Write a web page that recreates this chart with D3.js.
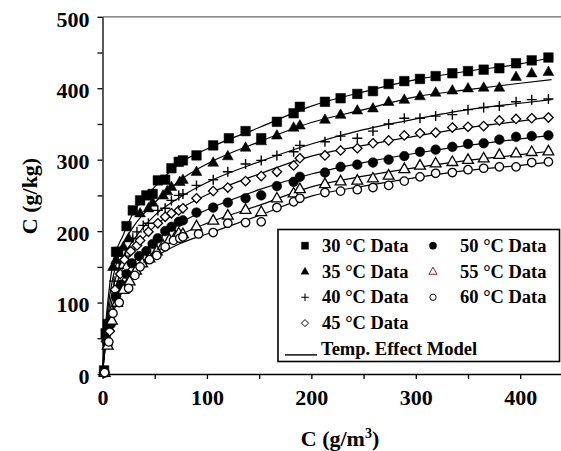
<!DOCTYPE html>
<html>
<head>
<meta charset="utf-8">
<script src="https://cdn.jsdelivr.net/npm/d3@7"></script>
<style>
    body { margin: 0; background: #ffffff; }
</style>
</head>
<body>
<div id="isotherm"></div>
<script>
// Temperatures (legend order) and the marker used for each one
var temps = ["30", "35", "40", "45", "50", "55", "60"];
var markerTypes = ["square", "triangle", "cross", "diamond", "dot", "opentriangle", "opencircle"];

// Measured points below ~170 g/m3, [C (g/m3), C (g/kg)]
var low30 = [[1.5,5],[3,57],[5,70],[13,171],[15,171],[23,207],[29,229],[36,243],[42,250],[48,252],[53,271],[60,272],[66,288],[73,297],[77,299],[90,306],[106,320],[121,330],[137,340],[152,330],[167,353]];
var low35 = [[1.5,3],[3.5,50],[6,65],[10,150],[13,160],[20,178],[25,190],[36,225],[44,232],[48,240],[58,250],[62,256],[66,262],[74,269],[77,272],[90,283],[106,296],[120,305],[137,317],[152,326],[167,334]];
var low40 = [[1.5,2],[4,48],[6,62],[11,130],[16,148],[22,165],[29,190],[33,199],[39,208],[44,211],[53,229],[60,232],[66,243],[73,250],[77,252],[90,264],[106,272],[120,283],[137,294],[152,299],[167,306]];
var low45 = [[1.5,2],[4,45],[7,60],[12,118],[17,140],[21,160],[27,172],[33,180],[36,187],[44,199],[53,211],[60,220],[66,225],[73,229],[77,232],[90,246],[106,256],[120,261],[137,270],[152,277],[167,283]];
var low50 = [[2,2],[5,42],[8,70],[13,108],[18,125],[23,140],[28,155],[35,165],[42,172],[48,182],[53,190],[60,200],[66,206],[73,213],[77,215],[90,226],[106,233],[120,240],[137,246],[152,250],[167,263]];
var low55 = [[2,2],[5,40],[9,75],[14,100],[20,118],[26,130],[32,145],[38,155],[45,162],[52,172],[58,180],[64,188],[70,193],[73,197],[77,196],[90,207],[106,215],[120,222],[137,230],[152,227],[167,246]];
var low60 = [[2,2],[6,45],[10,85],[16,100],[25,120],[31,138],[36,150],[45,160],[52,166],[60,178],[68,187],[74,190],[77,192],[92,196],[106,198],[120,211],[137,212],[152,213],[167,233]];

// Upper range: all temperatures share these concentrations (g/m3)
var highX = [183, 189, 213, 228, 244, 259, 274, 289, 304, 319, 335, 350, 365, 380, 396, 411, 427];
var high30 = [365, 374, 381, 386, 392, 396, 406, 410, 413, 417, 421, 424, 426, 428, 435, 439, 443];
var high35 = [345, 348, 356, 363, 369, 372, 381, 384, 389, 394, 397, 400, 401, 401, 416, 421, 423];
var high40 = [311, 320, 325, 333, 330, 340, 350, 358, 358, 361, 363, 370, 373, 375, 381, 384, 385];
var high45 = [292, 302, 306, 313, 316, 323, 327, 334, 337, 338, 345, 346, 347, 355, 357, 358, 359];
var high50 = [269, 276, 282, 290, 293, 296, 300, 305, 311, 314, 318, 322, 323, 328, 332, 333, 334];
var high55 = [253, 259, 266, 270, 271, 274, 278, 287, 292, 295, 297, 300, 302, 307, 309, 311, 312];
var high60 = [241, 246, 254, 256, 258, 261, 264, 270, 276, 281, 282, 286, 288, 290, 290, 296, 297];

// Temp. Effect Model curves
var modelX = [0, 2, 5, 10, 20, 30, 50, 75, 100, 150, 200, 250, 300, 350, 400, 430];
var model30 = [0, 50, 100, 155, 195, 227, 262, 296, 315, 345, 375, 395, 412, 424, 434, 443];
var model35 = [0, 45, 90, 135, 182, 207, 240, 272, 294, 325, 352, 370, 388, 398, 407, 412];
var model40 = [0, 40, 80, 120, 165, 188, 222, 248, 268, 297, 322, 342, 357, 370, 379, 384];
var model45 = [0, 36, 72, 108, 150, 173, 207, 232, 251, 280, 305, 320, 333, 345, 354, 360];
var model50 = [0, 32, 65, 97, 135, 157, 185, 212, 230, 258, 280, 296, 309, 320, 329, 334];
var model55 = [0, 30, 60, 90, 125, 145, 172, 195, 211, 236, 262, 277, 289, 299, 307, 312];
var model60 = [0, 28, 56, 85, 118, 137, 163, 183, 196, 222, 249, 263, 275, 285, 292, 297];

// Axis ticks
var xTicks = [0, 50, 100, 150, 200, 250, 300, 350, 400];
var yTicks = [0, 50, 100, 150, 200, 250, 300, 350, 400, 450, 500];

/**
 * Isotherm chart module
 */
var isotherm = function () {

    var exports = {},
        svg = null,
        width = 561,
        height = 451,
        // plot area in pixels
        plot = { left: 102.5, right: 562, top: 16.8, bottom: 374 },
        lows = [low30, low35, low40, low45, low50, low55, low60],
        highs = [high30, high35, high40, high45, high50, high55, high60],
        models = [model30, model35, model40, model45, model50, model55, model60],
        series = [];

    /** private **/

    // joins the low and high range points of every temperature
    var makeSeries = function () {
        for (var i = 0; i < temps.length; i++) {
            var pts = lows[i].map(function (p) { return { x: p[0], y: p[1] }; });
            for (var j = 0; j < highX.length; j++) {
                pts.push({ x: highX[j], y: highs[i][j] });
            }
            series.push({
                name: temps[i] + " \u00B0C Data",
                type: markerTypes[i],
                points: pts,
                model: modelX.map(function (x, k) { return { x: x, y: models[i][k] }; })
            });
        }
    };

    // bold Times-like text
    var serif = function (sel, size) {
        sel.style("font-family", "'Liberation Serif'")
            .style("font-weight", "bold")
            .style("font-size", size + "px")
            .style("fill", "#000");
    };

    var markerPath = function (type) {
        switch (type) {
            case "square": return "M-4.8,-4.8H4.8V4.8H-4.8Z";
            case "triangle":
            case "opentriangle": return "M0,-5.8L5.4,3.7H-5.4Z";
            case "cross": return "M-5,0H5M0,-5V5";
            case "diamond": return "M0,-4.7L4.7,0L0,4.7L-4.7,0Z";
            default: return d3.symbol(d3.symbolCircle, type === "dot" ? 74 : 56)();
        }
    };

    var styleMarker = function (sel, colour) {
        sel.attr("d", function (d) { return markerPath(d.type); })
            .style("fill", function (d) {
                if (d.type === "cross") return "none";
                return (d.type.indexOf("open") === 0 || d.type === "diamond") ? "#ffffff" : "#000000";
            })
            .style("stroke", colour || "#000000")
            .style("stroke-width", function (d) {
                if (d.type === "cross") return 1.4;
                return (d.type.indexOf("open") === 0 || d.type === "diamond") ? 1.3 : 0.5;
            });
    };

    /** public **/

    exports.draw = function () {
        makeSeries();

        var x = d3.scaleLinear().domain([0, 440]).range([plot.left, plot.right]),
            y = d3.scaleLinear().domain([0, 500]).range([plot.bottom, plot.top]);

        svg = d3.select("#isotherm").append("svg")
            .attr("width", width)
            .attr("height", height);

        // grey top edge of the plot area
        svg.append("line")
            .attr("x1", plot.left).attr("x2", plot.right)
            .attr("y1", plot.top).attr("y2", plot.top)
            .style("stroke", "#666666")
            .style("stroke-width", 1.2);

        // axes
        var yAxis = d3.axisLeft(y)
            .tickValues(yTicks)
            .tickSize(5)
            .tickSizeOuter(0)
            .tickPadding(8)
            .tickFormat(function (d) { return d % 100 === 0 ? d : ""; });

        var xAxis = d3.axisBottom(x)
            .tickValues(xTicks)
            .tickSize(5)
            .tickSizeOuter(0)
            .tickPadding(10)
            .tickFormat(function (d) { return d % 100 === 0 ? d : ""; });

        var gy = svg.append("g")
            .attr("transform", "translate(" + plot.left + ",0)")
            .call(yAxis);
        gy.selectAll("text").attr("dy", "0.42em");

        var gx = svg.append("g")
            .attr("transform", "translate(0," + plot.bottom + ")")
            .call(xAxis);

        [gx, gy].forEach(function (g) {
            g.attr("font-family", null).attr("font-size", null);
            g.selectAll("text").call(serif, 22);
            g.selectAll("line, path").style("stroke", "#000").style("stroke-width", 1.3);
        });

        // axis titles
        svg.append("text")
            .attr("transform", "translate(37,196) rotate(-90)")
            .attr("text-anchor", "middle")
            .call(serif, 22)
            .text("C (g/kg)");

        var xt = svg.append("text")
            .attr("x", 340)
            .attr("y", 446)
            .attr("text-anchor", "middle")
            .call(serif, 22);
        xt.append("tspan").text("C (g/m");
        xt.append("tspan").attr("dy", "-8").style("font-size", "14px").text("3");
        xt.append("tspan").attr("dy", "8").text(")");

        // model curves
        var line = d3.line()
            .x(function (d) { return x(d.x); })
            .y(function (d) { return y(d.y); })
            .curve(d3.curveMonotoneX);

        svg.append("g").selectAll("path")
            .data(series)
            .enter().append("path")
            .attr("d", function (d) { return line(d.model); })
            .style("fill", "none")
            .style("stroke", "#000")
            .style("stroke-width", 1.2);

        // data markers
        series.forEach(function (s) {
            svg.append("g").selectAll("path")
                .data(s.points.map(function (p) { return { x: p.x, y: p.y, type: s.type }; }))
                .enter().append("path")
                .attr("transform", function (d) { return "translate(" + x(d.x) + "," + y(d.y) + ")"; })
                .call(styleMarker);
        });

        // legend
        var legend = svg.append("g");
        legend.append("rect")
            .attr("x", 278).attr("y", 229.5)
            .attr("width", 281.5).attr("height", 132)
            .style("fill", "#fff")
            .style("stroke", "#000")
            .style("stroke-width", 1.6);

        var rowBase = 251.7, rowStep = 25.8;
        series.forEach(function (s, i) {
            var col = i < 4 ? 0 : 1,
                row = i < 4 ? i : i - 4,
                mx = col === 0 ? 305 : 433,
                tx = col === 0 ? 322 : 460,
                by = rowBase + row * rowStep;

            legend.append("path")
                .datum({ type: s.type })
                .attr("transform", "translate(" + mx + "," + (by - 6) + ") scale(0.75)")
                .call(styleMarker, s.type === "opentriangle" ? "#8b1a1a" : "#000");

            legend.append("text")
                .attr("x", tx).attr("y", by)
                .call(serif, 18.5)
                .text(s.name);
        });

        legend.append("line")
            .attr("x1", 285).attr("x2", 317)
            .attr("y1", rowBase + 4 * rowStep).attr("y2", rowBase + 4 * rowStep)
            .style("stroke", "#000")
            .style("stroke-width", 1.4);

        legend.append("text")
            .attr("x", 321).attr("y", rowBase + 4 * rowStep)
            .call(serif, 18.5)
            .text("Temp. Effect Model");

        return exports;
    };

    return exports;
};

isotherm().draw();
</script>
</body>
</html>
